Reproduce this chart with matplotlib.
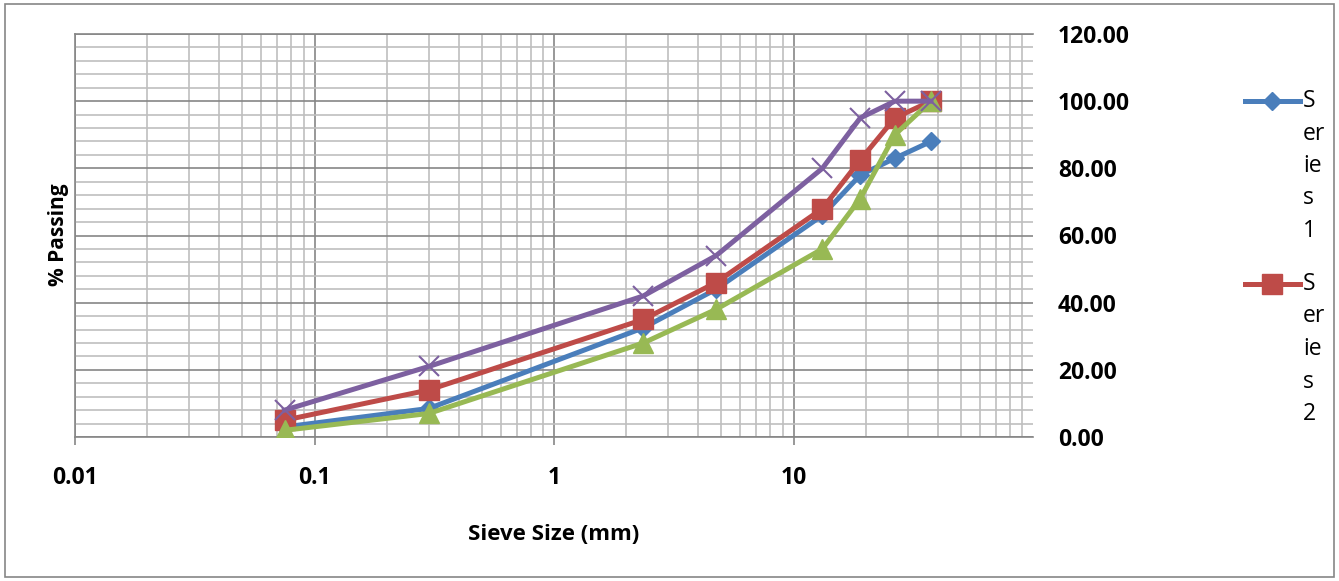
import numpy as np
import matplotlib.pyplot as plt
from matplotlib.lines import Line2D
from matplotlib.patches import Rectangle
from matplotlib.ticker import FixedLocator, LogLocator, NullFormatter

plt.rcParams['font.family'] = ['Open Sans', 'DejaVu Sans']

# sieve sizes (mm) and % passing
sieve = [0.075, 0.3, 2.36, 4.75, 13.2, 19.0, 26.5, 37.5]
series1 = [3.0, 8.5, 32.5, 44.0, 66.0, 78.0, 83.0, 88.0]
series2 = [5.0, 14.0, 35.0, 46.0, 68.0, 82.5, 95.0, 100.0]
series3 = [2.0, 7.0, 28.0, 38.0, 56.0, 71.0, 90.0, 100.0]
series4 = [8.0, 21.0, 42.0, 54.0, 80.0, 95.0, 100.0, 100.0]

x_ticks = [0.01, 0.1, 1, 10]
x_ticklabels = ["0.01", "0.1", "1", "10"]
y_ticks = [0, 20, 40, 60, 80, 100, 120]

blue = '#4A7EBB'
red = '#BE4B48'
green = '#98B954'
purple = '#7D60A0'

W, H = 1339, 581
fig = plt.figure(figsize=(W/100, H/100), dpi=100)
ax = fig.add_axes([75/W, 1-437/H, 958/W, 403/H])

############### 線をプロット ###############
lw = 3.6
ax.plot(sieve, series1, color=blue, lw=lw, marker='D', ms=9.5, zorder=3)
ax.plot(sieve, series2, color=red, lw=lw, marker='s', ms=14, zorder=4)
ax.plot(sieve, series3, color=green, lw=lw, marker='^', ms=14, zorder=5)
ax.plot(sieve, series4, color=purple, lw=lw, marker='x', ms=14, mew=1.5, zorder=6)

############### 軸の設定 ###############
ax.set_xscale('log')
ax.set_xlim(0.01, 100)
ax.set_ylim(0, 120)

ax.xaxis.set_major_locator(FixedLocator(x_ticks))
ax.set_xticklabels(x_ticklabels)
ax.xaxis.set_minor_locator(LogLocator(base=10, subs=np.arange(2, 10)))
ax.xaxis.set_minor_formatter(NullFormatter())
ax.set_yticks(y_ticks)
ax.set_yticklabels(["%.2f" % v for v in y_ticks])
ax.set_yticks(np.arange(0, 121, 4), minor=True)

ax.yaxis.tick_right()
ax.tick_params(axis='y', which='both', length=0, pad=18, labelsize=16.5)
ax.tick_params(axis='x', which='major', length=6, width=1.2, color='#868686',
               pad=15, labelsize=16.5)
ax.tick_params(axis='x', which='minor', length=0)
for lab in ax.get_xticklabels() + ax.get_yticklabels():
    lab.set_fontweight('bold')

ax.grid(which='major', color='#868686', lw=1.2, zorder=0)
ax.grid(which='minor', color='#BFBFBF', lw=1.2, zorder=0)
ax.set_axisbelow(True)

ax.spines['right'].set_visible(False)
for s in ['top', 'left', 'bottom']:
    ax.spines[s].set_color('#868686')
    ax.spines[s].set_linewidth(1.2)

ax.set_xlabel("Sieve Size (mm)", fontsize=16, fontweight='bold')
ax.xaxis.set_label_coords(0.5, -0.2407)
ax.xaxis.label.set_va('center')
ax.set_ylabel("% Passing", fontsize=15, fontweight='bold')
ax.yaxis.set_label_position('left')
ax.yaxis.set_label_coords(-0.0177, 0.501)
ax.yaxis.label.set_va('center')

############### 凡例(切れた表示) ###############
legend_items = [(blue, 'D', 9.5, 101, "1"), (red, 's', 14, 284, "2")]
for col, mk, ms, ypix, num in legend_items:
    fy = 1 - ypix/H
    fig.add_artist(Line2D([1245/W, 1300/W], [fy, fy], color=col, lw=lw,
                          transform=fig.transFigure))
    fig.add_artist(Line2D([1272/W], [fy], color=col, marker=mk, ms=ms,
                          transform=fig.transFigure))
    for i, part in enumerate(["S", "er", "ie", "s", num]):
        fig.text(1303/W, 1 - (ypix + i*32.5)/H, part, fontsize=16.5,
                 ha='left', va='center')

# 外枠
fig.add_artist(Rectangle((5/W, 4/H), 1-10/W, 1-8/H, transform=fig.transFigure,
                         fill=False, edgecolor='#868686', lw=1.2))

fig.savefig('out.png', dpi=100)
